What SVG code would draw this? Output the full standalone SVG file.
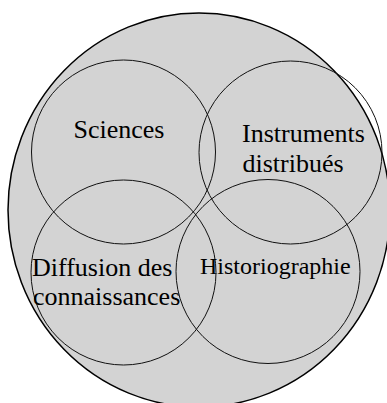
<svg xmlns="http://www.w3.org/2000/svg" width="387" height="403" viewBox="0 0 387 403">
<style>
.bg{fill:#d3d3d3;stroke:#000;stroke-width:1.5}
.c{fill:none;stroke:#111;stroke-width:1}
.t{font-family:'Liberation Serif','DejaVu Serif',serif;fill:#000;font-size:26px}
.s{font-size:24px}
</style>
<rect width="387" height="403" fill="#fff"/>
<g id="univers"><ellipse class="bg" cx="199" cy="210" rx="191" ry="197"/></g>
<g id="sciences"><circle class="c" cx="123.5" cy="152" r="92"/><text class="t" x="73.5" y="138">Sciences</text></g>
<g id="instruments"><circle class="c" cx="290.5" cy="152.5" r="91.5"/><text class="t" x="242" y="141.5">Instruments</text><text class="t" x="242.5" y="171.5">distribués</text></g>
<g id="diffusion"><circle class="c" cx="123.5" cy="272.5" r="92.5"/><text class="t" x="32" y="276">Diffusion des</text><text class="t" x="33" y="304.5">connaissances</text></g>
<g id="historiographie"><circle class="c" cx="268" cy="271.5" r="92"/><text class="t s" x="200" y="273.5">Historiographie</text></g>
<g id="connectors"></g>
</svg>
